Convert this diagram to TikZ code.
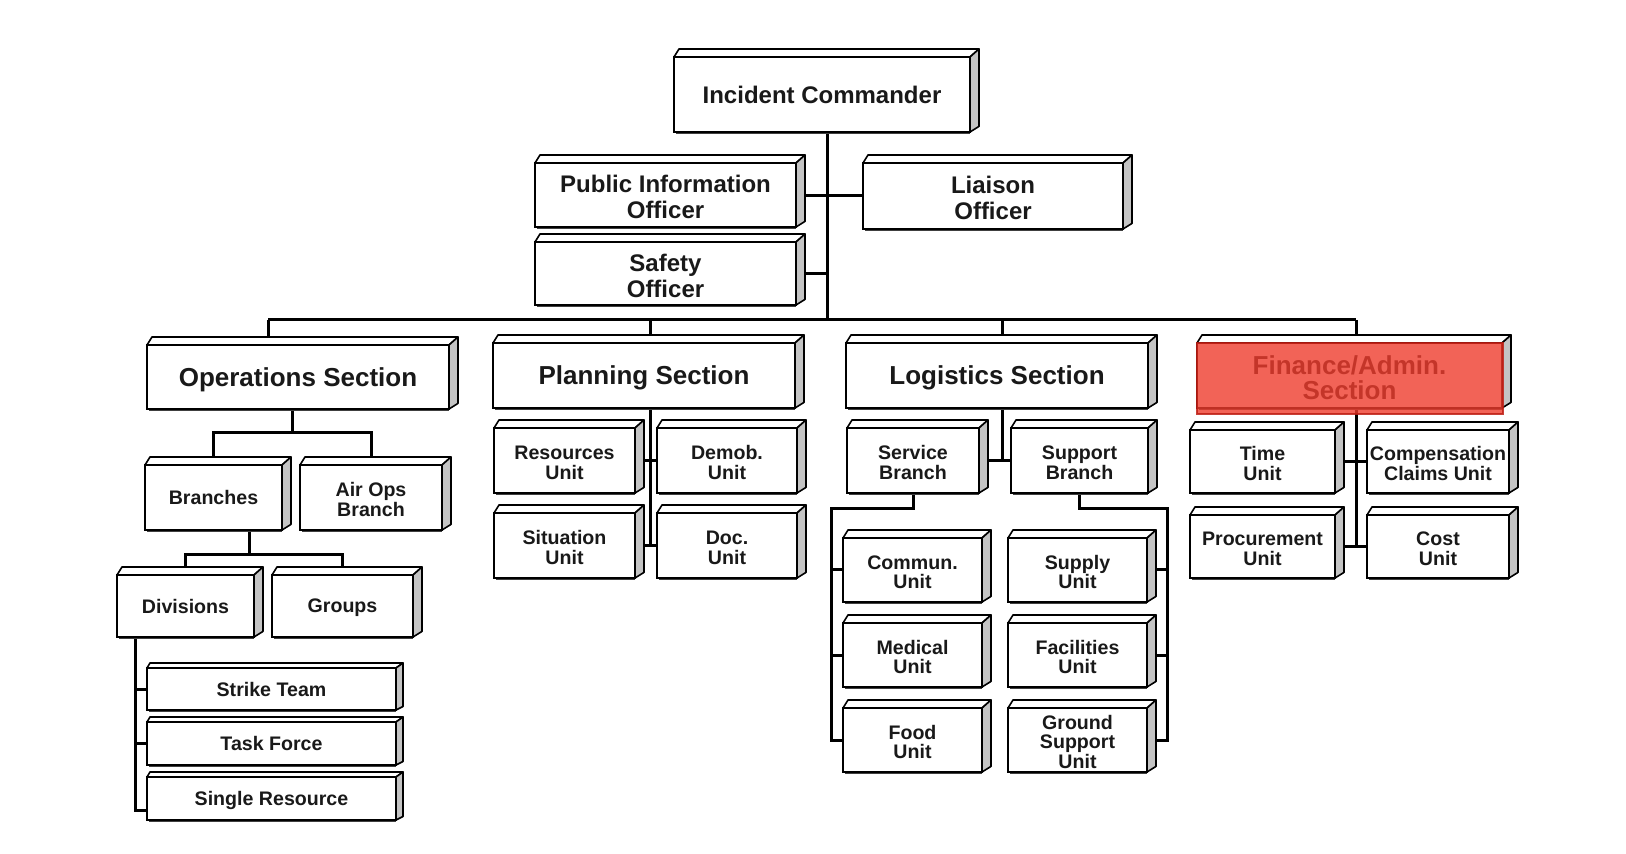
\documentclass[tikz,border=0pt]{standalone}
\usepackage{fontspec}
\setmainfont{Liberation Sans}
\usetikzlibrary{calc}
\pgfdeclarelayer{bg}
\pgfsetlayers{bg,main}
\definecolor{facegray}{RGB}{196,196,196}
\definecolor{hlfill}{RGB}{239,61,46}
\definecolor{hldraw}{RGB}{190,30,20}
\definecolor{txt}{RGB}{25,25,25}
\newcommand\bxpad{\rule{0pt}{\dimexpr0.72em+2pt\relax}}
\tikzset{
  unit/.style={draw=black, fill=white, line width=0.9pt, inner sep=0pt, outer sep=0pt, align=center,
     text=txt, font=\bfseries\fontsize{9.8}{9.6}\selectfont},
  big/.style={font=\bfseries\fontsize{12}{13}\selectfont},
  sec/.style={font=\bfseries\fontsize{13}{12.4}\selectfont},
  nodesc/.style={text depth=0pt},
  topface/.style={draw=black, fill=white, line width=0.8pt, line join=round},
  sideface/.style={draw=black, fill=facegray, line width=0.8pt, line join=round},
  shadowline/.style={draw=black!75, line width=0.9pt},
  conn/.style={draw=black, line width=1.5pt},
  hl/.style={fill=hlfill, fill opacity=0.8, draw=hldraw, draw opacity=0.85, line width=1pt},
}
\def\bdx{9}\def\bdy{8}\def\bsl{5}
% #1 options, #2 name, #3 x1, #4 y1, #5 x2, #6 y2, #7 text, #8 prefix
\newcommand\bxbase[8]{%
  \pgfmathsetmacro\bxcx{(#3+#5)/2}%
  \pgfmathsetmacro\bxcy{(#4+#6)/2}%
  \pgfmathsetmacro\bxww{(#5-#3)*0.5}%
  \pgfmathsetmacro\bxhh{(#6-#4)*0.5}%
  \draw[topface] (#3,#4) -- (#3+\bsl,#4-\bdy) -- (#5+\bdx,#4-\bdy) -- (#5,#4) -- cycle;
  \draw[sideface] (#5,#4) -- (#5+\bdx,#4-\bdy) -- (#5+\bdx,#6-0.7*\bdy) -- (#5,#6) -- cycle;
  \draw[shadowline] (#3+2,#6+1.5) -- (#5,#6+1.5);
  \node[unit, minimum width=\bxww pt, minimum height=\bxhh pt, #1] (#2) at (\bxcx,\bxcy) {#8#7};
}
\newcommand\bx[7][]{\bxbase{#1}{#2}{#3}{#4}{#5}{#6}{#7}{\bxpad}}
\newcommand\bxs[7][]{\bxbase{#1}{#2}{#3}{#4}{#5}{#6}{#7}{}}
\begin{document}
\begin{tikzpicture}[x=0.5pt, y=-0.5pt]
\begin{pgfonlayer}{bg}
\fill[white] (0,0) rectangle (1626,854);
\end{pgfonlayer}
\useasboundingbox (0,0) rectangle (1626,854);

% command staff
\bxs[big]{ic}{674}{57}{970}{132}{Incident Commander}
\bx[big]{pio}{535}{163}{796}{227}{Public Information\\Officer}
\bx[big]{saf}{535}{242}{796}{305}{Safety\\Officer}
\bx[big]{lia}{863}{163}{1123}{229}{Liaison\\Officer}

% sections
\bxs[sec,nodesc]{ops}{147}{345}{449}{409}{Operations Section}
\bxs[sec,nodesc]{plan}{493}{343}{795}{408}{Planning Section}
\bxs[sec,nodesc]{log}{846}{343}{1148}{408}{Logistics Section}
\bx[sec]{fin}{1197}{343}{1502}{408}{Finance/Admin.\\Section}

% operations
\bxs{br}{145}{465}{282}{530}{Branches}
\bx{air}{300}{465}{442}{530}{Air Ops\\Branch}
\bxs{div}{117}{575}{254}{637}{Divisions}
\bxs[nodesc]{grp}{272}{575}{413}{637}{Groups}
\begingroup
\def\bdx{7}\def\bdy{5}\def\bsl{3}
\bxs{stk}{147}{668}{396}{710}{Strike Team}
\bxs{tsk}{147}{722}{396}{765}{Task Force}
\bxs[nodesc]{sgl}{147}{777}{396}{820}{Single Resource}
\endgroup

% planning
\bx{res}{494}{428}{635}{493}{Resources\\Unit}
\bx{dem}{657}{428}{797}{493}{Demob.\\Unit}
\bx{sit}{494}{513}{635}{578}{Situation\\Unit}
\bx{doc}{657}{513}{797}{578}{Doc.\\Unit}

% logistics
\bx{svc}{847}{428}{979}{493}{Service\\Branch}
\bx{sup}{1011}{428}{1148}{493}{Support\\Branch}
\bx{com}{843}{538}{982}{602}{Commun.\\Unit}
\bx{med}{843}{623}{982}{687}{Medical\\Unit}
\bx{food}{843}{708}{982}{772}{Food\\Unit}
\bx{spl}{1008}{538}{1147}{602}{Supply\\Unit}
\bx{fac}{1008}{623}{1147}{687}{Facilities\\Unit}
\bx{gnd}{1008}{708}{1147}{772}{Ground\\Support\\Unit}

% finance
\bx{time}{1190}{430}{1335}{493}{Time\\Unit}
\bx{comp}{1367}{430}{1509}{493}{Compensation\\Claims Unit}
\bx{proc}{1190}{515}{1335}{578}{Procurement\\Unit}
\bx{cost}{1367}{515}{1509}{578}{Cost\\Unit}

% highlight overlay
\draw[hl] (fin.north west) rectangle ($(fin.south east)+(1,6)$);

% connectors
\begin{pgfonlayer}{bg}
\coordinate (trunk) at (827,320);
\coordinate (busL) at (268,320);
\coordinate (busR) at (1356,320);
\coordinate (pdrop) at (650,320);
\coordinate (ldrop) at (1002,320);
\draw[conn] (ic.south -| trunk) -- (trunk);
\draw[conn] (pio.east |- lia.west) -- (lia.west);
\draw[conn] (saf.east) -- (saf.east -| trunk);
\draw[conn] (busL) -- (busR);
\draw[conn] (busL) -- (busL |- ops.north);
\draw[conn] (pdrop) -- (pdrop |- plan.north);
\draw[conn] (ldrop) -- (ldrop |- log.north);
\draw[conn] (busR) -- (busR |- fin.north);
% operations
\coordinate (opsj) at (292,433);
\draw[conn] (opsj |- ops.south) -- (opsj);
\draw[conn] (br.north) |- (opsj) -| (air.north);
\coordinate (brj) at (249,555);
\draw[conn] (brj |- br.south) -- (brj);
\draw[conn] (div.north) |- (brj) -| (grp.north);
\coordinate (dv) at (135,810);
\draw[conn] (dv |- div.south) -- (dv) -- (dv -| sgl.west);
\draw[conn] (dv |- stk.west) -- (stk.west);
\draw[conn] (dv |- tsk.west) -- (tsk.west);
% planning
\coordinate (pv) at (650,549);
\draw[conn] (pv |- plan.south) -- (pv |- doc.west);
\draw[conn] (res.east) -- (dem.west);
\draw[conn] (sit.east) -- (doc.west);
% logistics
\coordinate (lv) at (1002,456);
\draw[conn] (lv |- log.south) -- (lv |- svc.east);
\draw[conn] (svc.east) -- (sup.west);
\coordinate (sv) at (831,509);
\draw[conn] (svc.south) |- (sv) -- (sv |- food.west) -- (food.west);
\draw[conn] (sv |- com.west) -- (com.west);
\draw[conn] (sv |- med.west) -- (med.west);
\coordinate (uv) at (1167,509);
\draw[conn] (sup.south) |- (uv) -- (uv |- gnd.east) -- (gnd.east);
\draw[conn] (uv |- spl.east) -- (spl.east);
\draw[conn] (uv |- fac.east) -- (fac.east);
% finance
\coordinate (fv) at (1356,500);
\draw[conn] (fv |- fin.south) -- (fv |- cost.west);
\draw[conn] (time.east) -- (comp.west);
\draw[conn] (proc.east) -- (cost.west);
\end{pgfonlayer}
\end{tikzpicture}
\end{document}
